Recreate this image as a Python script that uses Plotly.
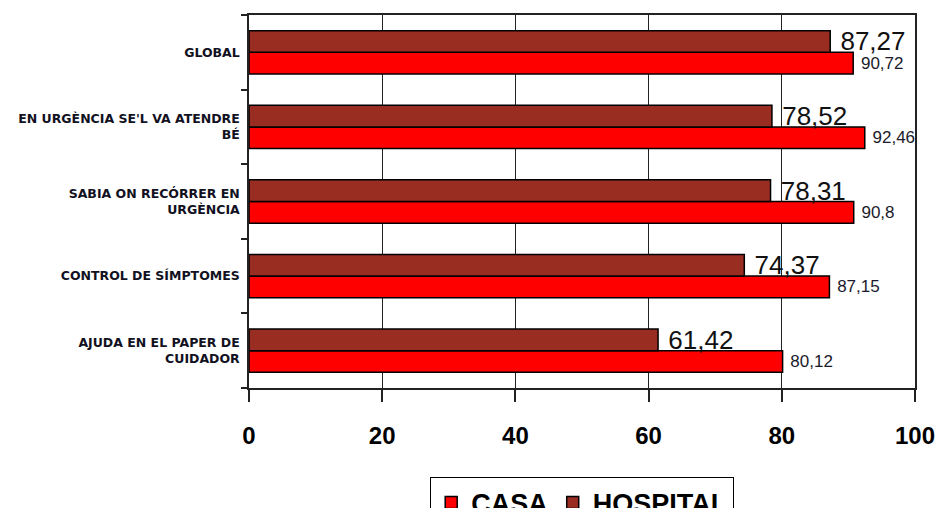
import plotly.graph_objects as go

# Categories listed bottom-to-top
categories = [
    "AJUDA EN EL PAPER DE<br>CUIDADOR",
    "CONTROL DE SÍMPTOMES",
    "SABIA ON RECÓRRER EN<br>URGÈNCIA",
    "EN URGÈNCIA SE'L VA ATENDRE<br>BÉ",
    "GLOBAL",
]
casa = [80.12, 87.15, 90.8, 92.46, 90.72]
hospital = [61.42, 74.37, 78.31, 78.52, 87.27]
x_ticks = [0, 20, 40, 60, 80, 100]


def fmt(v):
    return " " + str(v).replace(".", ",")


fig = go.Figure()
fig.add_trace(go.Bar(
    name="CASA", y=categories, x=casa, orientation="h",
    marker=dict(color="#FF0000", line=dict(color="#000000", width=1.5)),
    text=[fmt(v) for v in casa], textposition="outside", constraintext="none",
    textfont=dict(family="Liberation Sans, Arial", size=17, color="#1a1a2a"),
    cliponaxis=False,
))
fig.add_trace(go.Bar(
    name="HOSPITAL", y=categories, x=hospital, orientation="h",
    marker=dict(color="#992D22", line=dict(color="#000000", width=1.5)),
    text=[fmt(v) for v in hospital], textposition="outside", constraintext="none",
    textfont=dict(family="Liberation Sans, Arial", size=26, color="#111111"),
    cliponaxis=False,
))

fig.update_layout(
    width=941, height=508,
    margin=dict(l=249, r=26, t=15, b=120, autoexpand=False),
    paper_bgcolor="white", plot_bgcolor="white",
    barmode="group", bargap=0.42, bargroupgap=0,
    legend=dict(
        orientation="h", x=0.5, xanchor="center", y=-0.239, yanchor="top",
        bordercolor="#000000", borderwidth=1.2,
        font=dict(family="Liberation Sans, Arial", size=27, color="#000000", weight="bold"),
        traceorder="normal", itemwidth=30,
    ),
    showlegend=True,
)

fig.update_xaxes(
    range=[0, 100], tickvals=x_ticks, ticktext=[str(t) for t in x_ticks],
    showgrid=True, gridcolor="#222222", gridwidth=1,
    showline=True, linecolor="#222222", linewidth=1.5, mirror=True,
    ticks="outside", ticklen=12, tickcolor="#222222", tickwidth=1.5,
    ticklabelstandoff=13, automargin=False,
    tickfont=dict(family="Liberation Sans, Arial", size=24, color="#000000", weight="bold"),
    zeroline=False, fixedrange=True,
)
fig.update_yaxes(
    type="category", tickson="boundaries",
    showgrid=False, showline=True, linecolor="#222222", linewidth=1.5, mirror=True,
    ticks="outside", ticklen=6, tickcolor="#222222", tickwidth=1.5,
    ticklabelstandoff=5, automargin=False,
    tickfont=dict(family="DejaVu Sans", size=12.5, color="#111122", weight="bold"),
    fixedrange=True,
)

fig.write_html("out.html")
